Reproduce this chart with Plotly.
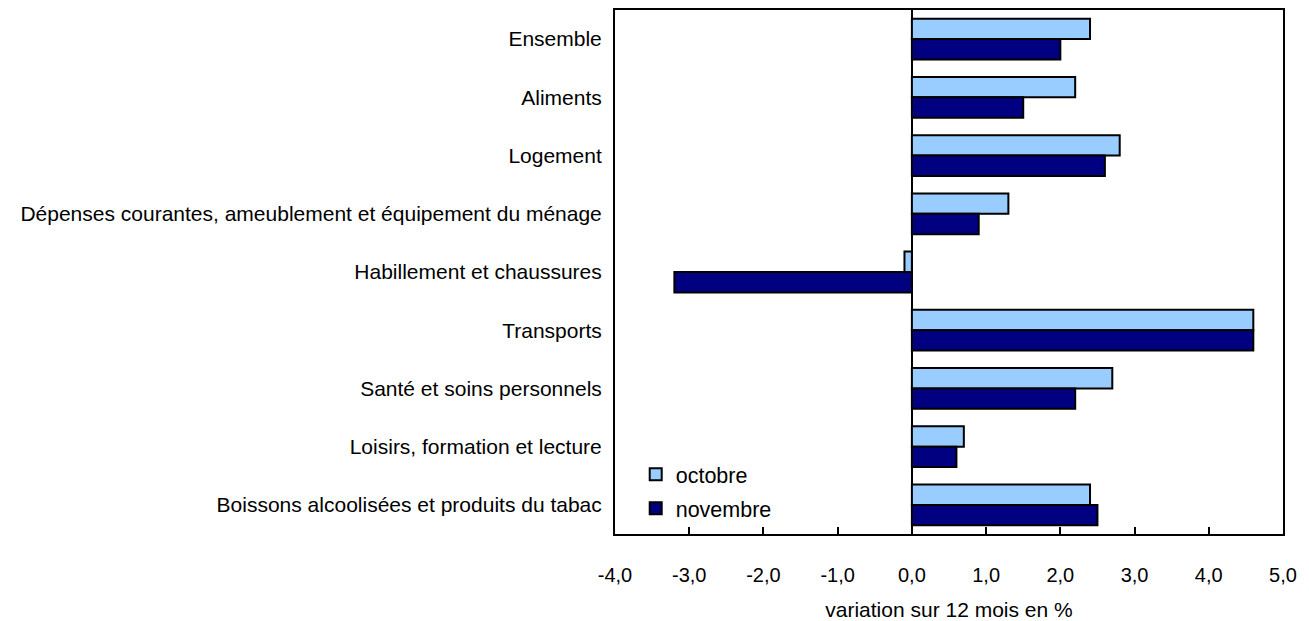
import plotly.graph_objects as go

categories = [
    "Ensemble",
    "Aliments",
    "Logement",
    "Dépenses courantes, ameublement et équipement du ménage",
    "Habillement et chaussures",
    "Transports",
    "Santé et soins personnels",
    "Loisirs, formation et lecture",
    "Boissons alcoolisées et produits du tabac",
]
octobre = [2.4, 2.2, 2.8, 1.3, -0.1, 4.6, 2.7, 0.7, 2.4]
novembre = [2.0, 1.5, 2.6, 0.9, -3.2, 4.6, 2.2, 0.6, 2.5]
tick_vals = [-4, -3, -2, -1, 0, 1, 2, 3, 4, 5]
tick_text = [f"{v:.1f}".replace(".", ",") for v in tick_vals]

font = "Liberation Sans, Arial, sans-serif"

fig = go.Figure()
fig.add_trace(go.Bar(
    y=categories, x=octobre, name="octobre", orientation="h", legendgroup="a",
    marker=dict(color="#99CCFF", line=dict(color="black", width=2)),
))
fig.add_trace(go.Bar(
    y=categories, x=novembre, name="novembre", orientation="h", legendgroup="b",
    marker=dict(color="#000080", line=dict(color="black", width=2)),
))

# page body has an 8px default margin, compensated here
fig.update_layout(
    width=1301, height=613,
    margin=dict(l=607, r=26, t=2, b=87),
    paper_bgcolor="white", plot_bgcolor="white",
    barmode="group", bargap=0.3, bargroupgap=0,
    font=dict(family=font, size=20, color="black"),
    showlegend=True,
    legend=dict(
        x=0.031, y=0.153, xanchor="left", yanchor="top",
        bgcolor="rgba(0,0,0,0)", font=dict(size=21.5),
        traceorder="grouped", itemsizing="constant", tracegroupgap=3,
        itemwidth=30,
    ),
    xaxis=dict(
        range=[-4, 5], tickvals=tick_vals, ticktext=tick_text,
        ticks="inside", ticklen=7, tickwidth=2, tickcolor="black",
        showline=True, linecolor="black", linewidth=2, mirror=True,
        showgrid=False, zeroline=True, zerolinecolor="black", zerolinewidth=2,
        title=dict(text="variation sur 12 mois en %", font=dict(size=21), standoff=20),
        tickfont=dict(size=20), ticklabelstandoff=22, automargin=False,
    ),
    yaxis=dict(
        autorange="reversed", showline=True, linecolor="black", linewidth=2,
        mirror=True, showgrid=False, ticks="", ticklabelstandoff=7,
        tickfont=dict(size=21), automargin=False,
    ),
)

fig.write_html("out.html")
